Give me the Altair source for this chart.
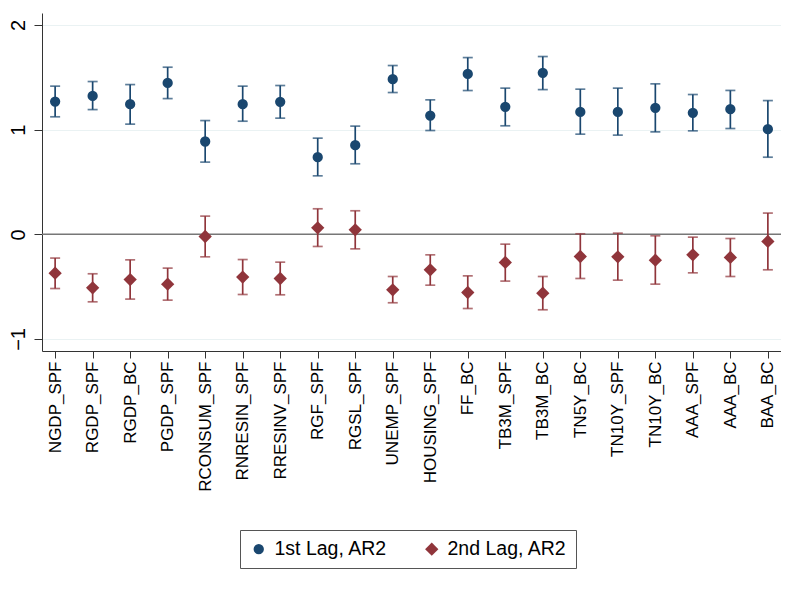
import altair as alt
import pandas as pd

categories = ["NGDP_SPF", "RGDP_SPF", "RGDP_BC", "PGDP_SPF", "RCONSUM_SPF",
              "RNRESIN_SPF", "RRESINV_SPF", "RGF_SPF", "RGSL_SPF", "UNEMP_SPF",
              "HOUSING_SPF", "FF_BC", "TB3M_SPF", "TB3M_BC", "TN5Y_BC",
              "TN10Y_SPF", "TN10Y_BC", "AAA_SPF", "AAA_BC", "BAA_BC"]

lag1 = [1.269, 1.323, 1.244, 1.447, 0.887, 1.244, 1.266, 0.737, 0.852, 1.483,
        1.135, 1.533, 1.218, 1.543, 1.170, 1.170, 1.209, 1.161, 1.196, 1.005]
lag1_hi = [1.416, 1.460, 1.431, 1.597, 1.087, 1.416, 1.422, 0.919, 1.034, 1.613,
           1.285, 1.689, 1.397, 1.699, 1.387, 1.397, 1.438, 1.336, 1.375, 1.278]
lag1_lo = [1.123, 1.192, 1.053, 1.297, 0.690, 1.081, 1.110, 0.559, 0.674, 1.355,
           0.992, 1.374, 1.037, 1.383, 0.957, 0.948, 0.979, 0.989, 1.011, 0.737]

lag2 = [-0.371, -0.511, -0.432, -0.476, -0.021, -0.409, -0.422, 0.062, 0.043, -0.530,
        -0.339, -0.556, -0.269, -0.562, -0.212, -0.215, -0.247, -0.196, -0.221, -0.068]
lag2_hi = [-0.227, -0.377, -0.244, -0.323, 0.174, -0.241, -0.266, 0.244, 0.225, -0.403,
           -0.196, -0.397, -0.094, -0.403, 0.005, 0.011, -0.014, -0.027, -0.040, 0.203]
lag2_lo = [-0.518, -0.645, -0.619, -0.629, -0.215, -0.575, -0.578, -0.116, -0.139, -0.654,
           -0.486, -0.709, -0.447, -0.721, -0.422, -0.438, -0.476, -0.368, -0.403, -0.339]

series_names = ["1st Lag, AR2", "2nd Lag, AR2"]
series_colors = ["#1a476f", "#90353b"]
series_shapes = ["circle", "diamond"]
y_ticks = [-1, 0, 1, 2]

rows = []
for i, c in enumerate(categories):
    rows.append(dict(var=c, series=series_names[0], est=lag1[i], lo=lag1_lo[i], hi=lag1_hi[i]))
    rows.append(dict(var=c, series=series_names[1], est=lag2[i], lo=lag2_lo[i], hi=lag2_hi[i]))
df = pd.DataFrame(rows)

FONT = "Liberation Sans"

x_enc = alt.X("var:N", sort=categories,
              scale=alt.Scale(type="point", padding=0.35),
              axis=alt.Axis(title=None, labelAngle=270, labelAlign="right",
                            labelBaseline="middle", labelFontSize=17,
                            labelFont=FONT, labelColor="black", tickSize=7,
                            labelPadding=3, tickColor="#333", domainColor="#333",
                            grid=False))
y_scale = alt.Scale(domain=[-1.115, 2.115], nice=False, zero=False)
y_axis = alt.Axis(title=None, values=y_ticks, labelAngle=270, labelAlign="center",
                  labelBaseline="bottom", labelFontSize=20, labelFont=FONT,
                  labelColor="black", tickSize=8, labelPadding=6,
                  tickColor="#333", domainColor="#333",
                  grid=True, gridColor="#eaf2f3", gridWidth=1.2)

color_nolegend = alt.Color("series:N", scale=alt.Scale(domain=series_names, range=series_colors),
                           legend=None)

base = alt.Chart(df)

zero = alt.Chart(pd.DataFrame({"z": [0]})).mark_rule(color="#777", strokeWidth=1.5).encode(
    y=alt.Y("z:Q", scale=y_scale, axis=y_axis))

points = base.mark_point(filled=True, opacity=1).encode(
    x=x_enc,
    y=alt.Y("est:Q", scale=y_scale, axis=y_axis),
    color=alt.Color("series:N", scale=alt.Scale(domain=series_names, range=series_colors),
                    title=None,
                    legend=alt.Legend(orient="none", legendX=198, legendY=517,
                                      direction="horizontal", labelFont=FONT,
                                      labelFontSize=19.5, labelColor="black",
                                      strokeColor="#555", padding=9,
                                      columnPadding=34, labelOffset=6,
                                      symbolSize=110, symbolStrokeWidth=0)),
    shape=alt.Shape("series:N", scale=alt.Scale(domain=series_names, range=series_shapes),
                    title=None),
    size=alt.Size("series:N", scale=alt.Scale(domain=series_names, range=[106, 177]),
                  legend=None),
)

bars = base.mark_rule(strokeWidth=1.7).encode(
    x=x_enc,
    y=alt.Y("lo:Q", scale=y_scale, axis=y_axis),
    y2="hi:Q",
    color=color_nolegend,
)

caps_lo = base.mark_tick(size=10, thickness=1.7).encode(
    x=x_enc, y=alt.Y("lo:Q", scale=y_scale, axis=y_axis), color=color_nolegend)
caps_hi = base.mark_tick(size=10, thickness=1.7).encode(
    x=x_enc, y=alt.Y("hi:Q", scale=y_scale, axis=y_axis), color=color_nolegend)

chart = alt.layer(zero, points, bars, caps_lo, caps_hi).properties(
    width=739, height=338,
    padding={"left": 34, "top": 5, "right": 0, "bottom": 222},
    autosize="none",
    background="white",
).configure_view(stroke=None)

chart.save("out.html", embed_options={"renderer": "svg", "actions": False})
